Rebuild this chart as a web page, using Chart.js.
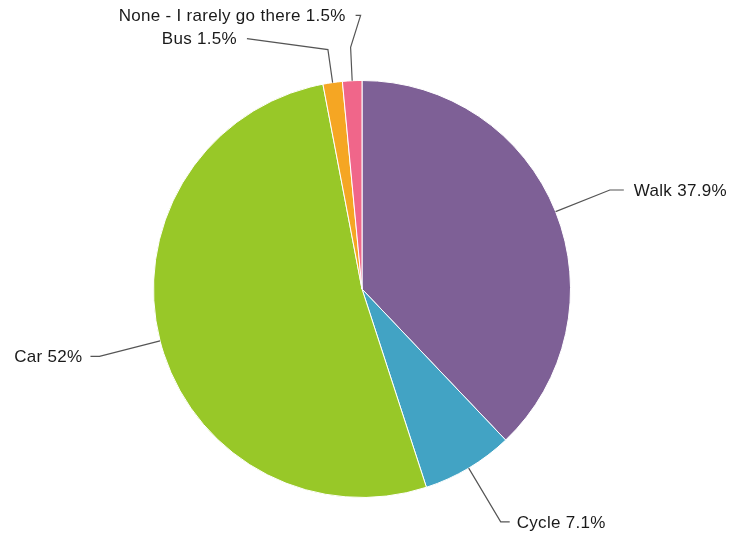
<!DOCTYPE html>
<html>
<head>
<meta charset="utf-8">
<title>Travel mode</title>
<script src="https://cdn.jsdelivr.net/npm/chart.js@4.4.1/dist/chart.umd.min.js"></script>
<style>
  html, body { margin: 0; padding: 0; background: #fff; }
  #wrap { width: 730px; height: 537px; }
</style>
</head>
<body>
<div id="wrap"><canvas id="pie" width="730" height="537"></canvas></div>
<script>
const modes = ['Walk', 'Cycle', 'Car', 'Bus', 'None - I rarely go there'];
const shares = [37.9, 7.1, 52, 1.5, 1.5];
const colours = ['#7e6096', '#42a3c4', '#98c828', '#f5a623', '#f0668a'];

// leader line layout per slice: elbow distance (x radius), horizontal tail + text gap,
// or extra bends relative to the elbow for the crowded small slices
const leaders = [
    { elbow: 1.28, tail: 14, gap: 10, bends: [] },
    { elbow: 1.30, tail: 9, gap: 7, bends: [] },
    { elbow: 1.30, tail: 9, gap: 8, bends: [] },
    { elbow: 1.16, gap: 10, bends: [[-81, -11]] },
    { elbow: 1.16, gap: 10, bends: [[10, -32], [5, -32]] }
];

const leaderLabels = {
    id: 'leaderLabels',
    afterDatasetsDraw(chart) {
        const ctx = chart.ctx;
        const meta = chart.getDatasetMeta(0);
        ctx.save();
        ctx.font = '17px "Liberation Sans", Arial, sans-serif';
        ctx.letterSpacing = '0.3px';
        ctx.textBaseline = 'middle';
        ctx.strokeStyle = '#555';
        ctx.lineWidth = 1.2;
        ctx.fillStyle = '#1a1a1a';
        meta.data.forEach((arc, i) => {
            const { x, y, startAngle, endAngle, outerRadius } = arc.getProps(['x', 'y', 'startAngle', 'endAngle', 'outerRadius'], true);
            const mid = (startAngle + endAngle) / 2;
            const ax = x + Math.cos(mid) * outerRadius;
            const ay = y + Math.sin(mid) * outerRadius;
            const lay = leaders[i];
            const ex = x + Math.cos(mid) * outerRadius * lay.elbow;
            const ey = y + Math.sin(mid) * outerRadius * lay.elbow;
            const pts = [[ax, ay], [ex, ey]];
            lay.bends.forEach(b => pts.push([ex + b[0], ey + b[1]]));
            let right = false;
            let tx;
            if (lay.bends.length === 0) {
                right = Math.cos(mid) > 0;
                const end = ex + (right ? lay.tail : -lay.tail);
                pts.push([end, ey]);
                tx = end + (right ? lay.gap : -lay.gap);
            } else {
                tx = pts[pts.length - 1][0] - lay.gap;
            }
            ctx.beginPath();
            ctx.moveTo(pts[0][0], pts[0][1]);
            for (let k = 1; k < pts.length; k++) ctx.lineTo(pts[k][0], pts[k][1]);
            ctx.stroke();
            const ty = pts[pts.length - 1][1];
            ctx.textAlign = right ? 'left' : 'right';
            ctx.fillText(modes[i] + ' ' + shares[i] + '%', tx, ty + 1);
        });
        ctx.restore();
    }
};

new Chart(document.getElementById('pie'), {
    type: 'pie',
    data: {
        labels: modes,
        datasets: [{
            data: shares,
            backgroundColor: colours,
            borderColor: '#fff',
            borderWidth: 1
        }]
    },
    options: {
        responsive: false,
        animation: false,
        layout: { padding: { top: 80, bottom: 39, left: 0, right: 6 } },
        plugins: {
            legend: { display: false },
            tooltip: { enabled: false }
        }
    },
    plugins: [leaderLabels]
});
</script>
</body>
</html>
